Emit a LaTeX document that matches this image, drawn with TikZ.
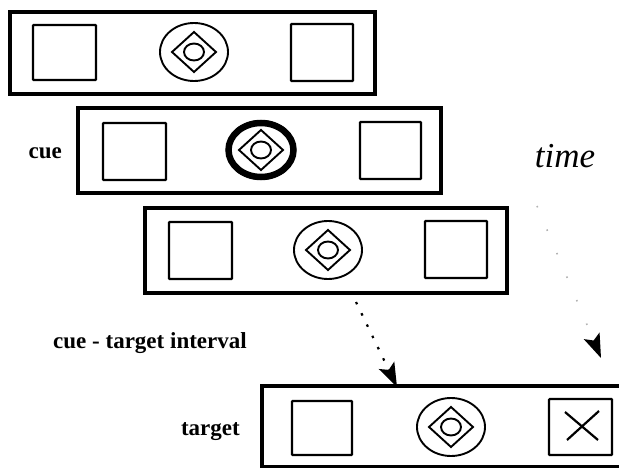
\documentclass[tikz,border=0pt]{standalone}
\usepackage{fontspec}
\setmainfont{Liberation Serif}
\usetikzlibrary{arrows.meta}
\begin{document}
\begin{tikzpicture}[x=1pt,y=-1pt,
  panel/.style={draw, line width=3.2pt},
  sq/.style={draw, line width=2.2pt, rounded corners=0.8pt},
  ring/.style={draw, line width=1.9pt},
  lab/.style={font=\fontsize{23}{23}\selectfont\bfseries, inner sep=0pt},
  tip/.style={-{Stealth[length=24pt,width=17pt,inset=5pt,black]}},
  fixation/.pic={
    \draw[ring] (0,0) ellipse [x radius=34, y radius=29];
    \draw[ring, line join=miter] (-22,0) -- (0,-20) -- (22,0) -- (0,20) -- cycle;
    \draw[ring] (0,0) ellipse [x radius=10, y radius=8.5];
  }
]
\useasboundingbox[fill=white] (0,0) rectangle (619,468);

% panel 1
\draw[panel] (10,12) rectangle (375,94);
\draw[sq] (33,25) rectangle (96,80);
\draw[sq] (291,24) rectangle (353,81);
\pic at (194,52) {fixation};

% panel 2 (cue)
\draw[panel] (78,108) rectangle (441,193);
\draw[sq] (103,123) rectangle (166,180);
\draw[sq] (360,122) rectangle (421,179);
\pic at (261,150) {fixation};
\draw[line width=6.5pt] (261,150) ellipse [x radius=32.5, y radius=27];

% panel 3
\draw[panel] (145,208) rectangle (507,293);
\draw[sq] (169,222) rectangle (232,279);
\draw[sq] (425,221) rectangle (487,278);
\pic at (328,250) {fixation};

% panel 4 (target)
\draw[panel] (262,386) rectangle (630,467);
\draw[sq] (292,401) rectangle (352,455);
\draw[sq] (549,399) rectangle (612,455);
\draw[line width=2.2pt] (565,412) -- (598,440);
\draw[line width=2.2pt] (599,411) -- (567,440);
\pic at (451,427) {fixation};

% labels
\node[lab, anchor=east] (cue) at (62,153) {cue};
\node[lab] (interval) at (150,343) {cue - target interval};
\node[lab, anchor=east] (target) at (240,432) {target};
\node[font=\fontsize{35}{35}\selectfont\itshape, inner sep=0pt] (time) at (565,156) {time};

% arrows
\coordinate (a1) at (356,302);
\coordinate (a2) at (397,387);
\draw[tip, line width=2.2pt, dash pattern=on 2.5pt off 10pt] (a1) -- (a2);
\coordinate (t1) at (537,206);
\coordinate (t2) at (601,358);
\draw[tip, black!30, line width=1.6pt, dash pattern=on 1.5pt off 24pt] (t1) -- (t2);
\end{tikzpicture}
\end{document}
